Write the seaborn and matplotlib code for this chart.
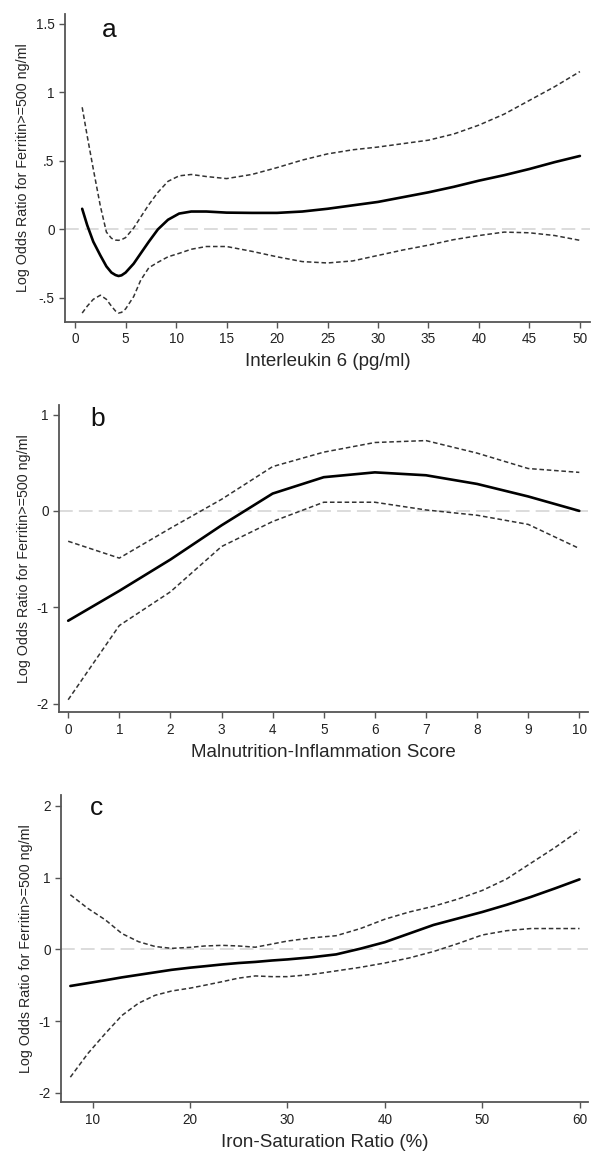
import matplotlib
matplotlib.use("Agg")
import matplotlib.pyplot as plt
import seaborn as sns
import pandas as pd

# Panel a: Interleukin 6 (pg/ml)
il6_x = [0.7, 1.2, 1.8, 2.5, 3.1, 3.6, 4.0, 4.3, 4.6, 5.0, 5.8, 6.5, 7.3, 8.2, 9.2, 10.3,
         11.5, 13, 15, 17.5, 20, 22.5, 25, 27.5, 30, 32.5, 35, 37.5, 40, 42.5, 45, 47.5, 50]
il6_fit = [0.15, 0.03, -0.09, -0.19, -0.27, -0.315, -0.333, -0.34, -0.335, -0.315, -0.25,
           -0.175, -0.09, 0.0, 0.07, 0.115, 0.13, 0.13, 0.122, 0.12, 0.12, 0.13, 0.15, 0.175,
           0.2, 0.235, 0.27, 0.31, 0.355, 0.395, 0.44, 0.49, 0.535]
il6_upper = [0.89, 0.68, 0.44, 0.17, -0.02, -0.065, -0.078, -0.08, -0.075, -0.06, 0.01,
             0.09, 0.18, 0.27, 0.35, 0.39, 0.40, 0.385, 0.37, 0.40, 0.45, 0.505, 0.55, 0.58,
             0.60, 0.625, 0.65, 0.695, 0.76, 0.84, 0.94, 1.04, 1.15]
il6_lower = [-0.61, -0.56, -0.51, -0.48, -0.51, -0.56, -0.595, -0.61, -0.605, -0.58, -0.49,
             -0.37, -0.28, -0.24, -0.2, -0.175, -0.145, -0.125, -0.125, -0.16, -0.2, -0.235,
             -0.245, -0.23, -0.19, -0.15, -0.115, -0.075, -0.045, -0.02, -0.025, -0.045,
             -0.08]
il6_ticks = [0, 5, 10, 15, 20, 25, 30, 35, 40, 45, 50]
il6_yticks = [-0.5, 0, 0.5, 1, 1.5]
il6_ylabels = ["-.5", "0", ".5", "1", "1.5"]

# Panel b: Malnutrition-Inflammation Score
mis_x = [0, 1, 2, 3, 4, 5, 6, 7, 8, 9, 10]
mis_fit = [-1.14, -0.83, -0.505, -0.15, 0.18, 0.35, 0.40, 0.37, 0.28, 0.15, 0.0]
mis_upper = [-0.315, -0.49, -0.18, 0.12, 0.46, 0.61, 0.71, 0.73, 0.60, 0.44, 0.40]
mis_lower = [-1.96, -1.19, -0.84, -0.37, -0.11, 0.09, 0.09, 0.01, -0.045, -0.14, -0.39]
mis_ticks = [0, 1, 2, 3, 4, 5, 6, 7, 8, 9, 10]
mis_yticks = [-2, -1, 0, 1]
mis_ylabels = ["-2", "-1", "0", "1"]

# Panel c: Iron-Saturation Ratio (%)
tsat_x = [7.7, 9.5, 11.3, 13, 14.7, 16.4, 18.1, 20, 21.5, 23.3, 25, 26.7, 28.4, 30, 32.5,
          35, 37.5, 40, 42.5, 45, 47.5, 50, 52.5, 55, 57.5, 60]
tsat_fit = [-0.51, -0.47, -0.43, -0.39, -0.355, -0.32, -0.285, -0.255, -0.235, -0.21, -0.19,
            -0.175, -0.155, -0.14, -0.11, -0.07, 0.01, 0.10, 0.22, 0.34, 0.43, 0.52, 0.62,
            0.73, 0.85, 0.975]
tsat_upper = [0.76, 0.57, 0.41, 0.22, 0.107, 0.04, 0.014, 0.028, 0.047, 0.056, 0.047, 0.03,
              0.074, 0.116, 0.16, 0.19, 0.29, 0.42, 0.52, 0.60, 0.70, 0.82, 0.98, 1.2, 1.42,
              1.66]
tsat_lower = [-1.78, -1.45, -1.17, -0.92, -0.75, -0.64, -0.58, -0.54, -0.50, -0.45, -0.40,
              -0.37, -0.38, -0.38, -0.35, -0.30, -0.25, -0.19, -0.12, -0.03, 0.08, 0.20, 0.26,
              0.29, 0.29, 0.29]
tsat_ticks = [10, 20, 30, 40, 50, 60]
tsat_yticks = [-2, -1, 0, 1, 2]
tsat_ylabels = ["-2", "-1", "0", "1", "2"]

ylabel_text = "Log Odds Ratio for Ferritin>=500 ng/ml"

sns.set_style("ticks")
plt.rcParams["font.family"] = ["Liberation Sans", "DejaVu Sans"]

fig = plt.figure(figsize=(5.97, 11.54), dpi=100)

panels = [
    dict(rect=[0.1089, 0.7210, 0.8794, 0.2669], x=il6_x, fit=il6_fit, up=il6_upper,
         lo=il6_lower, xticks=il6_ticks, yticks=il6_yticks, ylabels=il6_ylabels,
         xlim=(-1.0, 51.0), ylim=(-0.675, 1.57), xlabel="Interleukin 6 (pg/ml)",
         letter="a", lpos=(0.084, 0.925)),
    dict(rect=[0.0988, 0.3828, 0.8861, 0.2663], x=mis_x, fit=mis_fit, up=mis_upper,
         lo=mis_lower, xticks=mis_ticks, yticks=mis_yticks, ylabels=mis_ylabels,
         xlim=(-0.18, 10.17), ylim=(-2.09, 1.10), xlabel="Malnutrition-Inflammation Score",
         letter="b", lpos=(0.074, 0.93)),
    dict(rect=[0.1022, 0.0448, 0.8832, 0.2663], x=tsat_x, fit=tsat_fit, up=tsat_upper,
         lo=tsat_lower, xticks=tsat_ticks, yticks=tsat_yticks, ylabels=tsat_ylabels,
         xlim=(6.74, 60.9), ylim=(-2.13, 2.15), xlabel="Iron-Saturation Ratio (%)",
         letter="c", lpos=(0.068, 0.935)),
]

for p in panels:
    ax = fig.add_axes(p["rect"])
    df = pd.DataFrame({"x": p["x"], "fit": p["fit"], "up": p["up"], "lo": p["lo"]})

    # reference line at zero
    ax.axhline(0, color="#d2d2d2", lw=1.1, dashes=(9, 4), zorder=1)

    # confidence limits
    for col in ("up", "lo"):
        sns.lineplot(data=df, x="x", y=col, ax=ax, color="#333333", lw=1.1,
                     dashes=False, sort=False, zorder=2).lines[-1].set_dashes((3, 1.8))
    # fitted log odds ratio
    sns.lineplot(data=df, x="x", y="fit", ax=ax, color="black", lw=1.9, sort=False,
                 zorder=3)

    ax.set_xlim(*p["xlim"])
    ax.set_ylim(*p["ylim"])
    ax.set_xticks(p["xticks"])
    ax.set_xticklabels([str(t) for t in p["xticks"]], fontsize=9.8)
    ax.set_yticks(p["yticks"])
    ax.set_yticklabels(p["ylabels"], fontsize=9.8)
    ax.set_xlabel(p["xlabel"], fontsize=13.5, labelpad=5)
    ax.set_ylabel(ylabel_text, fontsize=10.3, labelpad=4)

    sns.despine(ax=ax)
    for s in ("left", "bottom"):
        ax.spines[s].set_color("#555555")
        ax.spines[s].set_linewidth(1.3)
    ax.tick_params(axis="both", direction="out", length=4.5, width=1.0,
                   color="#555555", labelcolor="#222222", pad=3)

    ax.text(p["lpos"][0], p["lpos"][1], p["letter"], transform=ax.transAxes,
            fontsize=19, ha="center", va="baseline", color="#111111")

fig.savefig("out.png", dpi=100)
